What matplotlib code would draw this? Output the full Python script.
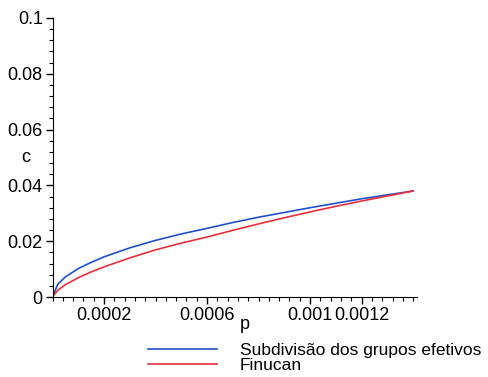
import numpy as np
import matplotlib
matplotlib.use('Agg')
import matplotlib.pyplot as plt
from matplotlib.ticker import MultipleLocator, FixedLocator

plt.rcParams['font.family'] = ['Liberation Sans', 'DejaVu Sans']

# values
p = [0, 0.00002, 0.00005, 0.0001, 0.00015, 0.0002, 0.0003, 0.0004, 0.0005,
     0.0006, 0.0007, 0.0008, 0.0009, 0.001, 0.0011, 0.0012, 0.0013, 0.0014]
c_subdiv = [0, 0.0045, 0.0072, 0.0102, 0.0124, 0.0144, 0.0176, 0.0203, 0.0226,
            0.0246, 0.0267, 0.0286, 0.0303, 0.0320, 0.0336, 0.0352, 0.0366, 0.0380]
c_finucan = [0, 0.0024, 0.0044, 0.0069, 0.0090, 0.0108, 0.0140, 0.0169, 0.0193,
             0.0215, 0.0239, 0.0262, 0.0284, 0.0305, 0.0325, 0.0344, 0.0362, 0.0380]

xtick_vals = [0.0002, 0.0006, 0.001, 0.0012]
xtick_labels = ['0.0002', '0.0006', '0.001', '0.0012']
ytick_vals = [0, 0.02, 0.04, 0.06, 0.08, 0.1]
ytick_labels = ['0', '0.02', '0.04', '0.06', '0.08', '0.1']

fig = plt.figure(figsize=(4.88, 3.77), dpi=100)
ax = fig.add_axes([52.5/488, 80/377, 364.5/488, 279/377])

l1, = ax.plot(p, c_subdiv, color='#2050c8', lw=1.2)
l2, = ax.plot(p, c_finucan, color='#e8303c', lw=1.2)

ax.set_xlim(0, 0.001415)
ax.set_ylim(0, 0.1)
for s in ['top', 'right']:
    ax.spines[s].set_visible(False)

ax.xaxis.set_major_locator(FixedLocator(xtick_vals))
ax.set_xticklabels(xtick_labels)
ax.xaxis.set_minor_locator(MultipleLocator(0.00004))
ax.yaxis.set_major_locator(FixedLocator(ytick_vals))
ax.set_yticklabels(ytick_labels)
ax.yaxis.set_minor_locator(MultipleLocator(0.004))
ax.tick_params(which='major', length=5, width=1, labelsize=13, pad=2)
ax.tick_params(which='minor', length=3, width=0.8)

ax.set_xlabel('p', fontsize=13, labelpad=0)
ax.xaxis.set_label_coords((245-52.5)/364.5, -(316-297)/279)
ax.set_ylabel('c', fontsize=13, rotation=0)
ax.yaxis.set_label_coords(-(52.5-26)/364.5, (297-166)/279)

fig.legend([l1, l2], ['Subdivisão dos grupos efetivos', 'Finucan'],
           loc='upper left', bbox_to_anchor=(148/488, 1-343/377),
           frameon=False, fontsize=12.5, handlelength=4.0, handletextpad=1.3,
           labelspacing=0.0, borderpad=0, borderaxespad=0)

fig.savefig('out.png', dpi=100)
